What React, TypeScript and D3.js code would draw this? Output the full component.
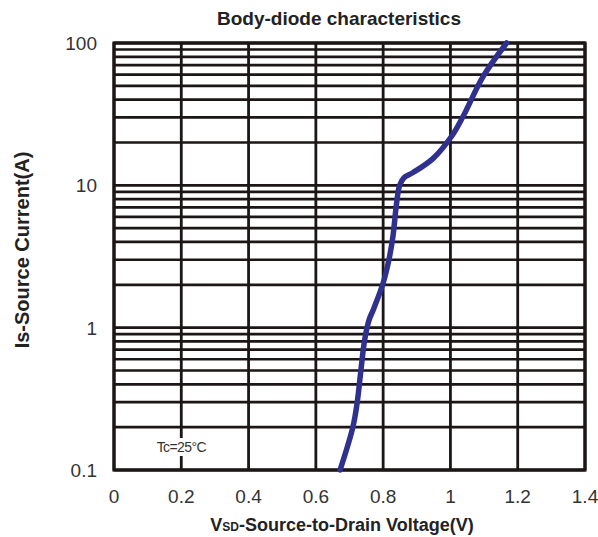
import React from "react";
import * as d3 from "d3";

const xTicks = [0, 0.2, 0.4, 0.6, 0.8, 1, 1.2, 1.4];
const yTicks = [0.1, 1, 10, 100];
const yTickLabels = ["0.1", "1", "10", "100"];
const voltage = [0.672, 0.71, 0.723, 0.733, 0.745, 0.758, 0.772, 0.8, 0.817, 0.829, 0.84, 0.849, 0.862, 0.889, 0.948, 1.004, 1.037, 1.097, 1.167];
const current = [0.1, 0.2, 0.3, 0.48, 0.82, 1.13, 1.36, 2.06, 2.99, 4.36, 7.5, 10.0, 11.3, 12.3, 15.4, 22.2, 30.3, 58, 100];

const W = 598, H = 537;
const L = 114, R = 585, T = 43, B = 470;

export default function App() {
  const x = d3.scaleLinear().domain([0, 1.4]).range([L, R]);
  const y = d3.scaleLog().domain([0.1, 100]).range([B, T]);
  const minor: number[] = [];
  [0.1, 1, 10].forEach((d) => { for (let k = 2; k <= 9; k++) minor.push(d * k); });
  const pts = voltage.map((v, i) => [v, current[i]] as [number, number]);
  const line = d3.line<[number, number]>().x((d) => x(d[0])).y((d) => y(d[1])).curve(d3.curveCatmullRom.alpha(0.5));
  const font = "'Liberation Sans', Arial, sans-serif";
  const grid = "#1c1616";
  return (
    <svg width={W} height={H} style={{ position: "absolute", left: 0, top: 0, background: "#fff" }}>
      <rect x={0} y={0} width={W} height={H} fill="#fff" />
      {minor.map((d, i) => (
        <line key={"m" + i} x1={L} x2={R} y1={y(d)} y2={y(d)} stroke={grid} strokeWidth={2.7} />
      ))}
      {yTicks.map((d, i) => (
        <line key={"yt" + i} x1={L} x2={R} y1={y(d)} y2={y(d)} stroke={grid} strokeWidth={2.8} />
      ))}
      {xTicks.map((d, i) => (
        <line key={"xg" + i} x1={x(d)} x2={x(d)} y1={T} y2={B} stroke={grid} strokeWidth={2.8} />
      ))}
      <rect x={L} y={T} width={R - L} height={B - T} fill="none" stroke={grid} strokeWidth={3.2} />
      <rect x={x(0.2) - 32} y={438} width={64} height={18} fill="#fff" />
      <text x={x(0.2)} y={452} textAnchor="middle" fontFamily={font} fontSize={14} fill="#333" letterSpacing={-0.6}>Tc=25°C</text>
      <path d={line(pts) || ""} fill="none" stroke="#30308f" strokeWidth={5.5} strokeLinecap="round" strokeLinejoin="round" />
      {xTicks.map((d, i) => (
        <text key={"xl" + i} x={x(d)} y={503} textAnchor="middle" fontFamily={font} fontSize={19} fill="#333">{d3.format("~g")(d)}</text>
      ))}
      {yTicks.map((d, i) => (
        <text key={"yl" + i} x={97} y={y(d) + 7} textAnchor="end" fontFamily={font} fontSize={19} fill="#333">{yTickLabels[i]}</text>
      ))}
      <text x={339} y={25} textAnchor="middle" fontFamily={font} fontSize={19} fontWeight="bold" fill="#222">Body-diode characteristics</text>
      <text transform="translate(29,250) rotate(-90)" textAnchor="middle" fontFamily={font} fontSize={20} fontWeight="bold" fill="#222">Is-Source Current(A)</text>
      <text x={342} y={531} textAnchor="middle" fontFamily={font} fontSize={18} fontWeight="bold" fill="#222">
        V<tspan fontSize={12}>SD</tspan>-Source-to-Drain Voltage(V)
      </text>
    </svg>
  );
}
